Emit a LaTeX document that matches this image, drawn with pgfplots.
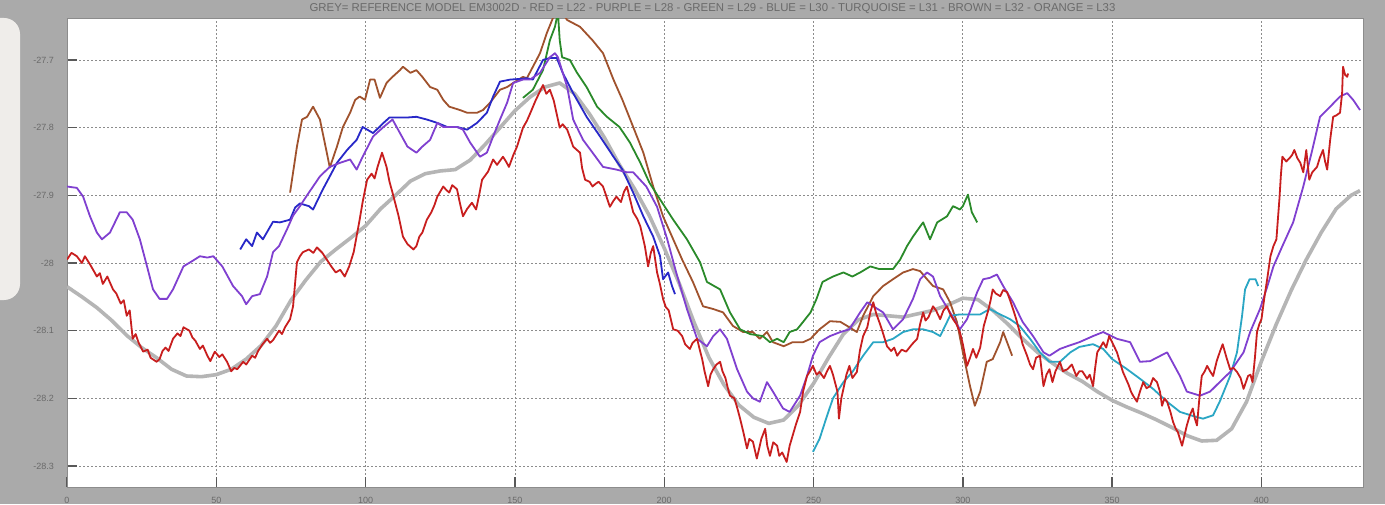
\documentclass[border=0pt]{standalone}
\usepackage{fontspec}
\setmainfont{Liberation Sans}
\usepackage{pgfplots}
\pgfplotsset{compat=1.18}
\definecolor{bggrey}{HTML}{AAAAAA}
\definecolor{bglight}{HTML}{EFEDEA}
\definecolor{refgrey}{HTML}{B5B5B5}
\definecolor{cred}{HTML}{C81E1E}
\definecolor{cpurple}{HTML}{8040D0}
\definecolor{cgreen}{HTML}{2A8A2A}
\definecolor{cblue}{HTML}{2828C8}
\definecolor{cturq}{HTML}{2AA6C4}
\definecolor{cbrown}{HTML}{A0522D}
\definecolor{txtgrey}{HTML}{6A6A6A}
\begin{document}
\begin{tikzpicture}
\path[use as bounding box] (0,0) rectangle (692.5pt,252pt);
\fill[bggrey] (0,0) rectangle (692.5pt,252pt);
\begin{scope}
\clip (0,0) rectangle (692.5pt,252pt);
\fill[bglight, rounded corners=8pt] (-20pt,102pt) rectangle (10pt,243pt);
\end{scope}
\node[txtgrey, font=\fontsize{5.7}{6.5}\selectfont, anchor=center] at (356.25pt,247.5pt) {GREY= REFERENCE MODEL EM3002D - RED = L22 - PURPLE = L28 - GREEN = L29 - BLUE = L30 - TURQUOISE = L31 - BROWN = L32 - ORANGE = L33};
\begin{axis}[
  at={(33.5pt,8.5pt)}, anchor=south west,
  scale only axis, width=648pt, height=234.5pt,
  xmin=0, xmax=434, ymin=-28.331, ymax=-27.638,
  xtick={0,50,...,400},
  ytick={-28.3,-28.2,-28.1,-28,-27.9,-27.8,-27.7},
  yticklabels={-28.3,-28.2,-28.1,-28,-27.9,-27.8,-27.7},
  xticklabels={0,50,100,150,200,250,300,350,400},
  tick pos=left, tick align=inside,
  major tick length=5pt,
  tick style={draw=black!65, line width=0.7pt},
  ticklabel style={font=\fontsize{4.5}{5}\selectfont, text=txtgrey},
  yticklabel style={xshift=-3pt},
  xticklabel style={yshift=-1.5pt},
  grid=major,
  grid style={draw=black!45, line width=0.4pt, dash pattern=on 1pt off 1pt},
  axis line style={draw=black!45, line width=0.5pt},
  axis background/.style={fill=white},
  every axis plot/.append style={no markers, line join=round, line width=0.9pt},
]
% GREY reference
\addplot[refgrey, line width=1.8pt] coordinates {
(0,-28.035)(5,-28.05)(10,-28.066)(15,-28.085)(20,-28.107)(25,-28.125)(30,-28.14)(35,-28.157)(40,-28.167)(45,-28.168)(50,-28.165)(55,-28.157)(60,-28.142)(65,-28.122)(70,-28.093)(75,-28.055)(80,-28.025)(85,-27.998)(90,-27.98)(95,-27.963)(100,-27.945)(105,-27.92)(110,-27.9)(115,-27.879)(120,-27.868)(125,-27.864)(130,-27.862)(135,-27.848)(140,-27.825)(145,-27.8)(150,-27.775)(155,-27.755)(160,-27.74)(165,-27.734)(170,-27.75)(175,-27.78)(180,-27.815)(185,-27.855)(190,-27.89)(195,-27.93)(200,-27.978)(205,-28.03)(210,-28.088)(215,-28.14)(220,-28.18)(225,-28.21)(230,-28.228)(235,-28.237)(240,-28.232)(245,-28.21)(250,-28.178)(255,-28.14)(260,-28.105)(265,-28.084)(270,-28.076)(275,-28.078)(280,-28.08)(285,-28.075)(290,-28.07)(295,-28.062)(300,-28.052)(305,-28.054)(310,-28.07)(315,-28.09)(320,-28.112)(325,-28.132)(330,-28.148)(335,-28.163)(340,-28.175)(345,-28.19)(350,-28.203)(355,-28.213)(360,-28.222)(365,-28.232)(370,-28.243)(375,-28.255)(380,-28.263)(385,-28.262)(390,-28.245)(395,-28.205)(400,-28.145)(405,-28.09)(410,-28.04)(415,-27.995)(420,-27.955)(425,-27.92)(430,-27.9)(433,-27.893)
};
% BROWN L32
\addplot[cbrown] coordinates {
(74.7,-27.896)(77,-27.828)(78.7,-27.788)(80.4,-27.784)(82.4,-27.769)(84.7,-27.788)(87,-27.837)(88,-27.859)(90.4,-27.828)(92.4,-27.799)(94.8,-27.778)(96.5,-27.759)(98,-27.754)(99.8,-27.759)(101.5,-27.729)(103,-27.729)(104.8,-27.756)(107,-27.734)(109,-27.725)(111.5,-27.715)(112.5,-27.71)(115,-27.719)(117,-27.715)(119,-27.725)(121.6,-27.74)(124,-27.744)(126,-27.759)(128,-27.769)(131.6,-27.774)(134,-27.778)(137.3,-27.778)(139.3,-27.774)(141.7,-27.763)(145,-27.744)(147.4,-27.74)(149.4,-27.734)(152.7,-27.725)(154,-27.727)(158.4,-27.69)(160.7,-27.66)(163,-27.635)(165,-27.625)(167.5,-27.641)(171.8,-27.651)(176,-27.671)(179.5,-27.69)(183,-27.729)(186,-27.759)(189.6,-27.799)(193,-27.837)(196.3,-27.887)(199.6,-27.931)(203,-27.965)(206,-27.995)(209.6,-28.028)(213,-28.064)(216.4,-28.068)(219.7,-28.073)(223,-28.093)(226.4,-28.102)(229.7,-28.102)(232,-28.112)(234.4,-28.102)(236.4,-28.117)(240,-28.123)(243,-28.117)(246.5,-28.117)(249,-28.112)(252,-28.098)(255.5,-28.086)(259,-28.087)(262,-28.095)(264.5,-28.102)(266.6,-28.078)(270,-28.049)(273.3,-28.034)(276.6,-28.024)(280,-28.014)(283.3,-28.009)(285.7,-28.012)(288,-28.024)(290,-28.034)(293.4,-28.039)(295.7,-28.058)(298,-28.087)(300,-28.132)(302.4,-28.182)(304,-28.211)(305.8,-28.19)(308,-28.146)(310,-28.142)(312.5,-28.117)(313.5,-28.102)(314.8,-28.117)(316.5,-28.137)
};
% GREEN L29
\addplot[cgreen] coordinates {
(152.7,-27.756)(156,-27.744)(159.4,-27.715)(161.7,-27.671)(163.4,-27.651)(164.4,-27.63)(165,-27.671)(165.8,-27.696)(168.4,-27.7)(170.8,-27.719)(174,-27.74)(177.5,-27.769)(180.8,-27.784)(185,-27.799)(188.5,-27.822)(192,-27.852)(195,-27.881)(198.6,-27.906)(203,-27.936)(207.6,-27.965)(212,-27.999)(214.3,-28.028)(218.7,-28.039)(222,-28.073)(225.4,-28.098)(228.7,-28.105)(233,-28.108)(235.4,-28.117)(237.8,-28.112)(240,-28.117)(242,-28.102)(244.5,-28.098)(246.5,-28.087)(249,-28.073)(251,-28.053)(253,-28.028)(256.5,-28.02)(260,-28.014)(263,-28.02)(265.6,-28.014)(269,-28.005)(272,-28.009)(274.6,-28.009)(276.6,-28.009)(279,-27.995)(281.3,-27.975)(283.3,-27.961)(285.7,-27.946)(286.7,-27.94)(289,-27.965)(291.4,-27.94)(294.7,-27.931)(296.7,-27.916)(299,-27.921)(300,-27.916)(301.7,-27.899)(303,-27.925)(304.8,-27.94)
};
% BLUE L30
\addplot[cblue] coordinates {
(58,-27.98)(60,-27.965)(62,-27.975)(63.6,-27.955)(65.6,-27.965)(69,-27.939)(71.3,-27.94)(74.7,-27.936)(76.4,-27.918)(78,-27.912)(81,-27.916)(82.4,-27.921)(85.7,-27.891)(88,-27.872)(90.4,-27.852)(93.8,-27.833)(97,-27.818)(99,-27.799)(102.5,-27.808)(106,-27.793)(108,-27.785)(114,-27.785)(117,-27.784)(120.5,-27.788)(124,-27.793)(127.3,-27.799)(130.6,-27.799)(134,-27.803)(137.3,-27.793)(140.6,-27.778)(142.7,-27.754)(145,-27.732)(148.4,-27.729)(151.7,-27.728)(154,-27.727)(156,-27.729)(159.4,-27.7)(161.7,-27.697)(164,-27.697)(166,-27.719)(169.5,-27.749)(174,-27.784)(178.5,-27.813)(183,-27.843)(186,-27.862)(189.6,-27.896)(193,-27.931)(196.3,-27.961)(198.6,-27.99)(199.6,-28.024)(201.3,-28.014)(202.6,-28.034)(203.6,-28.046)
};
% TURQUOISE L31
\addplot[cturq] coordinates {
(249.8,-28.279)(252,-28.26)(254.5,-28.226)(256.5,-28.2)(260,-28.176)(263,-28.161)(266.6,-28.137)(270,-28.117)(273.3,-28.117)(276.6,-28.112)(280,-28.102)(283.3,-28.098)(286.7,-28.098)(290,-28.102)(292.4,-28.108)(295.7,-28.078)(299,-28.076)(302.4,-28.076)(305.8,-28.076)(309,-28.068)(312.5,-28.076)(315.8,-28.083)(319,-28.093)(322.5,-28.112)(325.8,-28.132)(329,-28.146)(332.5,-28.146)(336,-28.132)(339,-28.124)(343.6,-28.12)(347,-28.127)(350,-28.142)(355,-28.157)(359.3,-28.171)(363.7,-28.186)(368.4,-28.205)(372.7,-28.22)(377,-28.226)(380.4,-28.23)(383.8,-28.225)(386,-28.205)(389.5,-28.167)(391.8,-28.132)(393.5,-28.078)(394.5,-28.039)(396,-28.024)(398,-28.024)(398.9,-28.034)
};
% PURPLE L28
\addplot[cpurple] coordinates {
(0,-27.887)(3.3,-27.889)(5.4,-27.902)(7.7,-27.931)(10,-27.955)(11.7,-27.965)(14.4,-27.955)(17.7,-27.925)(20,-27.925)(22,-27.936)(24.4,-27.965)(26.8,-28.005)(28.8,-28.039)(31,-28.053)(33.5,-28.053)(35.5,-28.039)(39,-28.005)(42,-27.997)(44.5,-27.99)(47,-27.992)(49,-27.99)(52,-28.005)(55.6,-28.034)(58.6,-28.049)(60,-28.061)(62,-28.049)(64.6,-28.046)(67,-28.02)(69,-27.984)(71,-27.975)(73.7,-27.95)(75.7,-27.93)(78,-27.916)(81,-27.896)(84.7,-27.872)(88,-27.858)(91.4,-27.852)(94.8,-27.847)(97,-27.862)(99,-27.843)(102.5,-27.813)(106,-27.799)(109,-27.788)(111.5,-27.808)(114,-27.828)(117,-27.837)(119,-27.828)(121.6,-27.818)(124,-27.793)(126,-27.799)(130.6,-27.799)(132.6,-27.803)(135,-27.822)(138.3,-27.843)(140.6,-27.837)(142.7,-27.813)(145,-27.788)(147.4,-27.763)(149.4,-27.734)(152.7,-27.729)(155,-27.729)(158.4,-27.719)(161.7,-27.696)(163.4,-27.69)(164.4,-27.696)(167.5,-27.74)(169.5,-27.788)(172.8,-27.818)(176,-27.837)(179.5,-27.858)(184,-27.862)(187.5,-27.866)(189.6,-27.866)(194,-27.887)(197.6,-27.917)(201,-27.965)(204,-28.014)(207.6,-28.068)(211,-28.112)(214.3,-28.123)(216.4,-28.108)(218.7,-28.098)(221,-28.112)(224.4,-28.157)(227.7,-28.19)(229.7,-28.2)(232,-28.205)(234.4,-28.176)(236.4,-28.19)(239.8,-28.215)(242,-28.22)(245.5,-28.196)(247.8,-28.167)(249.8,-28.137)(252,-28.117)(255.5,-28.108)(259,-28.102)(262,-28.098)(265.6,-28.073)(268,-28.058)(270,-28.064)(273.3,-28.073)(276.6,-28.098)(280,-28.083)(283.3,-28.053)(285.7,-28.024)(288,-28.014)(290,-28.02)(292.4,-28.049)(295.7,-28.073)(299,-28.098)(301.4,-28.083)(304.8,-28.043)(306.8,-28.024)(309,-28.022)(311.4,-28.017)(313.5,-28.034)(316.8,-28.058)(320,-28.087)(323.5,-28.108)(327,-28.132)(329,-28.137)(332.5,-28.127)(335,-28.123)(339,-28.117)(343.6,-28.108)(347,-28.102)(351.6,-28.112)(356,-28.117)(359.3,-28.146)(362.7,-28.145)(368.4,-28.132)(372.7,-28.167)(375,-28.19)(379.4,-28.196)(382.8,-28.19)(386,-28.176)(389.5,-28.161)(394,-28.132)(396.2,-28.102)(399.5,-28.068)(402,-28.034)(404,-28.005)(407,-27.975)(410.6,-27.94)(414,-27.887)(417,-27.833)(419.6,-27.784)(423,-27.769)(426.3,-27.754)(428.7,-27.749)(430.7,-27.759)(433,-27.774)
};
% RED L22
\addplot[cred] coordinates {
(0,-27.995)(1.5,-27.985)(3.3,-27.99)(5,-28.0)(6,-27.99)(7.7,-28.002)(9,-28.012)(10,-28.02)(11,-28.015)(12,-28.031)(13.5,-28.02)(15.4,-28.039)(16.5,-28.045)(18,-28.06)(19,-28.055)(20,-28.078)(21,-28.07)(22,-28.112)(23,-28.105)(24,-28.118)(25.5,-28.131)(27,-28.128)(28,-28.14)(30,-28.146)(31,-28.142)(32,-28.13)(33,-28.125)(34,-28.13)(35.5,-28.112)(37,-28.104)(38,-28.108)(39,-28.095)(41,-28.1)(42,-28.11)(43,-28.115)(44.5,-28.127)(45.5,-28.122)(47,-28.137)(48,-28.145)(49.5,-28.131)(51,-28.139)(52,-28.135)(53.6,-28.146)(55,-28.16)(56,-28.155)(57,-28.157)(59,-28.146)(60,-28.15)(62,-28.137)(63,-28.14)(64,-28.13)(65.5,-28.12)(67,-28.112)(68,-28.118)(69,-28.114)(71,-28.1)(72,-28.105)(73,-28.095)(74.7,-28.083)(75.7,-28.064)(77,-27.999)(78,-27.99)(79,-27.984)(81,-27.98)(82.5,-27.985)(83.7,-27.977)(85.5,-27.985)(87,-27.995)(88.5,-28.005)(90,-28.014)(91.5,-28.01)(93,-28.02)(94.5,-28.005)(96,-27.984)(97,-27.96)(98,-27.936)(99,-27.91)(100.5,-27.877)(102,-27.868)(103,-27.875)(104,-27.858)(105.5,-27.837)(107,-27.858)(108,-27.88)(109,-27.896)(111,-27.93)(112.5,-27.961)(114,-27.972)(116,-27.98)(117,-27.975)(118,-27.961)(119,-27.955)(120.5,-27.936)(122,-27.925)(123,-27.915)(124,-27.902)(126,-27.887)(127,-27.892)(128,-27.896)(129,-27.885)(130.6,-27.891)(131.5,-27.91)(132.6,-27.931)(134,-27.92)(135.6,-27.911)(137,-27.921)(138,-27.9)(139,-27.877)(141,-27.865)(142.7,-27.847)(144,-27.855)(146,-27.843)(147,-27.85)(148,-27.858)(149.5,-27.84)(150.7,-27.828)(152.7,-27.8)(154,-27.79)(155,-27.78)(157,-27.759)(158,-27.75)(159.4,-27.737)(160.5,-27.75)(161.7,-27.744)(163,-27.76)(164,-27.78)(165,-27.8)(166,-27.795)(167.5,-27.803)(168.5,-27.815)(169.5,-27.828)(170.5,-27.832)(171.8,-27.837)(172.5,-27.86)(173.5,-27.877)(175,-27.88)(176,-27.887)(177,-27.883)(178,-27.88)(179.5,-27.887)(180.5,-27.9)(181.8,-27.917)(183,-27.908)(184,-27.902)(185.5,-27.91)(186.5,-27.895)(187.5,-27.887)(188.5,-27.905)(189.6,-27.925)(191,-27.935)(192,-27.946)(193.5,-27.975)(194.6,-28.005)(195.5,-27.985)(196.3,-27.975)(197.6,-28.014)(198.5,-28.03)(199.6,-28.053)(200.5,-28.065)(201.5,-28.07)(203,-28.098)(204.5,-28.1)(206,-28.108)(207,-28.12)(208.6,-28.127)(209.5,-28.118)(211,-28.112)(212,-28.13)(212.7,-28.142)(213.5,-28.16)(214.7,-28.182)(215.5,-28.165)(216.4,-28.157)(217.5,-28.15)(218.7,-28.146)(219.5,-28.16)(220.5,-28.17)(221.3,-28.185)(222,-28.196)(223.5,-28.2)(224.5,-28.215)(225.4,-28.23)(226.5,-28.25)(227.7,-28.274)(228.5,-28.26)(229.7,-28.264)(231,-28.289)(232,-28.27)(232.5,-28.26)(233.8,-28.245)(234.5,-28.27)(235.4,-28.285)(236.5,-28.265)(237.8,-28.27)(238.5,-28.285)(239.5,-28.28)(241,-28.294)(242,-28.27)(243,-28.255)(244,-28.24)(245.5,-28.22)(246.5,-28.19)(247.8,-28.167)(248.8,-28.16)(249.8,-28.152)(251,-28.165)(252,-28.161)(253.5,-28.17)(254.5,-28.16)(255.5,-28.152)(256.5,-28.165)(258,-28.19)(258.5,-28.23)(259.3,-28.2)(260,-28.186)(261,-28.165)(262,-28.152)(263,-28.17)(264.5,-28.161)(265.5,-28.13)(266.6,-28.108)(268,-28.095)(269,-28.073)(270,-28.058)(271,-28.075)(272,-28.087)(273,-28.1)(274.6,-28.123)(276,-28.13)(277,-28.125)(278,-28.137)(279.5,-28.128)(281,-28.131)(283,-28.12)(284.7,-28.112)(285.7,-28.09)(286.7,-28.073)(287.5,-28.085)(288.5,-28.08)(290,-28.064)(291,-28.07)(292.4,-28.083)(293.5,-28.07)(294.7,-28.064)(295.7,-28.075)(296.7,-28.083)(297.8,-28.09)(299,-28.102)(300,-28.12)(301.4,-28.152)(302.4,-28.14)(303.4,-28.127)(304.5,-28.14)(305.8,-28.125)(307,-28.093)(308.5,-28.07)(309.3,-28.055)(310,-28.039)(311,-28.045)(312.5,-28.049)(313.5,-28.04)(314.8,-28.043)(315.8,-28.055)(316.8,-28.068)(318,-28.085)(319,-28.102)(320,-28.12)(321.5,-28.137)(322.5,-28.15)(323.5,-28.157)(324.5,-28.14)(325.8,-28.137)(327,-28.182)(328,-28.165)(329,-28.157)(330,-28.176)(331,-28.16)(332.5,-28.146)(333.5,-28.16)(335,-28.157)(336.5,-28.15)(338,-28.167)(339,-28.16)(340,-28.16)(341.6,-28.171)(342.5,-28.165)(343.6,-28.182)(344.3,-28.155)(345,-28.132)(346,-28.125)(347,-28.117)(348,-28.125)(349,-28.108)(350.3,-28.12)(351.6,-28.132)(352.5,-28.145)(353.6,-28.161)(354.5,-28.17)(355.5,-28.18)(356.3,-28.19)(357,-28.196)(358.3,-28.205)(359.3,-28.19)(360.4,-28.176)(361.5,-28.185)(362.7,-28.182)(363.7,-28.17)(365,-28.176)(366,-28.19)(366.7,-28.211)(367.5,-28.2)(368.4,-28.205)(369.5,-28.22)(370.4,-28.235)(371.3,-28.245)(372,-28.25)(373.4,-28.27)(374.2,-28.255)(375,-28.24)(376,-28.225)(377,-28.215)(377.7,-28.23)(378.4,-28.24)(379.2,-28.2)(380,-28.167)(381,-28.16)(381.8,-28.152)(382.8,-28.16)(383.8,-28.167)(385,-28.145)(386,-28.132)(387,-28.12)(388.3,-28.14)(389.5,-28.157)(390.6,-28.155)(391.8,-28.161)(393,-28.17)(394,-28.186)(395.5,-28.167)(396.3,-28.165)(397,-28.176)(397.8,-28.14)(398.5,-28.102)(399.3,-28.09)(400,-28.083)(401,-28.05)(401.9,-28.024)(403,-27.99)(404,-27.975)(405,-27.965)(405.5,-27.935)(406,-27.906)(406.5,-27.87)(407,-27.843)(408.3,-27.85)(409.6,-27.844)(410.3,-27.84)(411,-27.833)(412,-27.845)(413,-27.852)(414,-27.866)(415,-27.833)(416,-27.877)(417,-27.866)(418.6,-27.858)(419.5,-27.845)(420.6,-27.833)(421.3,-27.85)(422,-27.862)(423,-27.818)(424,-27.784)(425,-27.782)(426.3,-27.778)(427,-27.749)(427.3,-27.71)(428,-27.722)(428.7,-27.725)(429,-27.72)
};
\end{axis}
\end{tikzpicture}
\end{document}
